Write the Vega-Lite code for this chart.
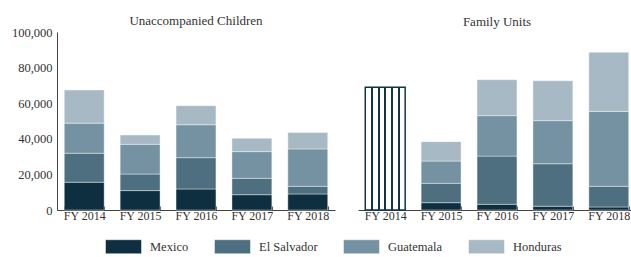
{
  "$schema": "https://vega.github.io/schema/vega-lite/v6.json",
  "padding": {"left": 11, "top": 15, "right": 0, "bottom": 0},
  "background": "white",
  "config": {
    "font": "Liberation Serif",
    "view": {"stroke": null},
    "concat": {"spacing": 23},
    "title": {"font": "Liberation Serif", "fontSize": 13, "fontWeight": "normal", "color": "#333333"},
    "axis": {"labelFont": "Liberation Serif", "labelFontSize": 12, "labelColor": "#333333", "domainColor": "#444444", "grid": false, "title": null}
  },
  "datasets": {
    "uac": [
      {"year": "FY 2014", "country": "Mexico", "value": 15600},
      {"year": "FY 2014", "country": "El Salvador", "value": 16300},
      {"year": "FY 2014", "country": "Guatemala", "value": 16900},
      {"year": "FY 2014", "country": "Honduras", "value": 18600},
      {"year": "FY 2015", "country": "Mexico", "value": 10900},
      {"year": "FY 2015", "country": "El Salvador", "value": 9300},
      {"year": "FY 2015", "country": "Guatemala", "value": 16700},
      {"year": "FY 2015", "country": "Honduras", "value": 5200},
      {"year": "FY 2016", "country": "Mexico", "value": 11800},
      {"year": "FY 2016", "country": "El Salvador", "value": 17600},
      {"year": "FY 2016", "country": "Guatemala", "value": 18500},
      {"year": "FY 2016", "country": "Honduras", "value": 10700},
      {"year": "FY 2017", "country": "Mexico", "value": 8600},
      {"year": "FY 2017", "country": "El Salvador", "value": 9200},
      {"year": "FY 2017", "country": "Guatemala", "value": 15000},
      {"year": "FY 2017", "country": "Honduras", "value": 7500},
      {"year": "FY 2018", "country": "Mexico", "value": 9000},
      {"year": "FY 2018", "country": "El Salvador", "value": 4300},
      {"year": "FY 2018", "country": "Guatemala", "value": 21000},
      {"year": "FY 2018", "country": "Honduras", "value": 9300}
    ],
    "fam": [
      {"year": "FY 2015", "country": "Mexico", "value": 4100},
      {"year": "FY 2015", "country": "El Salvador", "value": 10900},
      {"year": "FY 2015", "country": "Guatemala", "value": 12500},
      {"year": "FY 2015", "country": "Honduras", "value": 10900},
      {"year": "FY 2016", "country": "Mexico", "value": 3200},
      {"year": "FY 2016", "country": "El Salvador", "value": 27100},
      {"year": "FY 2016", "country": "Guatemala", "value": 22700},
      {"year": "FY 2016", "country": "Honduras", "value": 20200},
      {"year": "FY 2017", "country": "Mexico", "value": 2100},
      {"year": "FY 2017", "country": "El Salvador", "value": 23900},
      {"year": "FY 2017", "country": "Guatemala", "value": 24200},
      {"year": "FY 2017", "country": "Honduras", "value": 22400},
      {"year": "FY 2018", "country": "Mexico", "value": 1700},
      {"year": "FY 2018", "country": "El Salvador", "value": 11600},
      {"year": "FY 2018", "country": "Guatemala", "value": 42100},
      {"year": "FY 2018", "country": "Honduras", "value": 33200}
    ],
    "famtotal": [
      {"year": "FY 2014", "value": 68900}
    ]
  },
  "resolve": {"scale": {"y": "shared", "color": "shared"}},
  "hconcat": [
    {
      "title": {"text": "Unaccompanied Children", "offset": -2},
      "width": 278,
      "height": 178,
      "data": {"name": "uac"},
      "mark": {"type": "bar", "stroke": "white", "strokeWidth": 0.4},
      "encoding": {
        "x": {
          "field": "year", "type": "nominal",
          "sort": ["FY 2014", "FY 2015", "FY 2016", "FY 2017", "FY 2018"],
          "scale": {"paddingInner": 0.286, "paddingOuter": 0.13},
          "axis": {"labelAngle": 0, "tickBand": "extent", "tickSize": -4, "tickColor": "#444444", "labelPadding": 4}
        },
        "y": {
          "field": "value", "type": "quantitative", "stack": "zero",
          "scale": {"domain": [0, 100000], "nice": false},
          "axis": {"values": [0, 20000, 40000, 60000, 80000, 100000], "format": ",d", "ticks": false, "labelPadding": 5, "labelFontSize": 12.5}
        },
        "color": {
          "field": "country", "type": "nominal",
          "scale": {"domain": ["Mexico", "El Salvador", "Guatemala", "Honduras"], "range": ["#0e2f3f", "#4e6f7f", "#7592a2", "#a6b9c4"]},
          "legend": {
            "title": null, "orient": "none", "direction": "horizontal",
            "legendX": 48, "legendY": 196,
            "symbolType": "M-1,-0.39H1V0.39H-1Z", "symbolSize": 1296,
            "symbolStrokeColor": "#dddddd", "symbolStrokeWidth": 0.5,
            "labelFont": "Liberation Serif", "labelFontSize": 12.5, "labelColor": "#333333",
            "columnPadding": 24, "labelOffset": 8
          }
        },
        "order": {"field": "corder", "type": "quantitative"}
      },
      "transform": [
        {"calculate": "indexof(['Mexico','El Salvador','Guatemala','Honduras'], datum.country)", "as": "corder"}
      ]
    },
    {
      "title": {"text": "Family Units", "offset": 3},
      "width": 278,
      "height": 178,
      "layer": [
        {
          "data": {"name": "fam"},
          "transform": [
            {"calculate": "indexof(['Mexico','El Salvador','Guatemala','Honduras'], datum.country)", "as": "corder"}
          ],
          "mark": {"type": "bar", "stroke": "white", "strokeWidth": 0.4},
          "encoding": {
            "x": {
              "field": "year", "type": "nominal",
              "sort": ["FY 2014", "FY 2015", "FY 2016", "FY 2017", "FY 2018"],
              "scale": {"domain": ["FY 2014", "FY 2015", "FY 2016", "FY 2017", "FY 2018"], "paddingInner": 0.286, "paddingOuter": 0.13},
              "axis": {"labelAngle": 0, "tickBand": "extent", "tickSize": -4, "tickColor": "#444444", "labelPadding": 4}
            },
            "y": {
              "field": "value", "type": "quantitative", "stack": "zero",
              "axis": null
            },
            "color": {"field": "country", "type": "nominal"},
            "order": {"field": "corder", "type": "quantitative"}
          }
        },
        {
          "data": {"name": "famtotal"},
          "mark": {
            "type": "bar",
            "stroke": "#123545",
            "strokeWidth": 1.5,
            "fill": {
              "gradient": "linear", "x1": 0, "x2": 1, "y1": 0, "y2": 0,
              "stops": [
                {"offset": 0, "color": "#ffffff"},
                {"offset": 0.142, "color": "#ffffff"},
                {"offset": 0.142, "color": "#123545"},
                {"offset": 0.192, "color": "#123545"},
                {"offset": 0.192, "color": "#ffffff"},
                {"offset": 0.308, "color": "#ffffff"},
                {"offset": 0.308, "color": "#123545"},
                {"offset": 0.358, "color": "#123545"},
                {"offset": 0.358, "color": "#ffffff"},
                {"offset": 0.475, "color": "#ffffff"},
                {"offset": 0.475, "color": "#123545"},
                {"offset": 0.525, "color": "#123545"},
                {"offset": 0.525, "color": "#ffffff"},
                {"offset": 0.642, "color": "#ffffff"},
                {"offset": 0.642, "color": "#123545"},
                {"offset": 0.692, "color": "#123545"},
                {"offset": 0.692, "color": "#ffffff"},
                {"offset": 0.808, "color": "#ffffff"},
                {"offset": 0.808, "color": "#123545"},
                {"offset": 0.858, "color": "#123545"},
                {"offset": 0.858, "color": "#ffffff"},
                {"offset": 1, "color": "#ffffff"}
              ]
            }
          },
          "encoding": {
            "x": {"field": "year", "type": "nominal"},
            "y": {"field": "value", "type": "quantitative"}
          }
        }
      ]
    }
  ]
}
